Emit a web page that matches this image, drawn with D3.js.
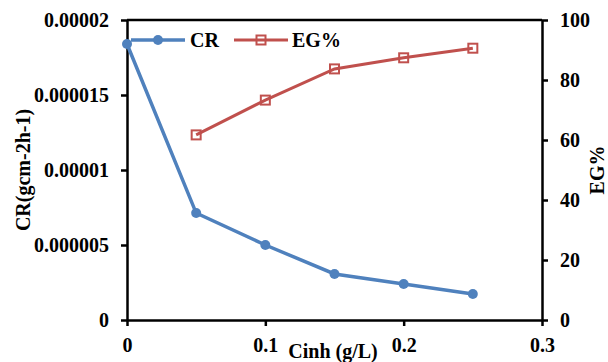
<!DOCTYPE html>
<html>
<head>
<meta charset="utf-8">
<script src="https://cdn.jsdelivr.net/npm/d3@7"></script>
<style>
  html, body { margin: 0; padding: 0; background: #fff; }
  svg { display: block; }
  text { font-family: "Liberation Serif", "Times New Roman", serif; font-weight: bold; fill: #000; }
</style>
</head>
<body>
<svg id="chart" width="608" height="362"></svg>
<script>
// Inhibitor concentration (g/L)
const cinh = [0, 0.05, 0.1, 0.15, 0.2, 0.25];
// Corrosion rate (g cm-2 h-1)
const crValues = [0.0000184, 0.00000713, 0.000005, 0.00000307, 0.0000024, 0.00000173];
// Inhibition efficiency (%), no value at blank
const egCinh = [0.05, 0.1, 0.15, 0.2, 0.25];
const egValues = [61.7, 73.3, 83.7, 87.4, 90.6];

const xTicks = [0, 0.1, 0.2, 0.3];
const xTickLabels = ["0", "0.1", "0.2", "0.3"];
const leftTicks = [0, 0.000005, 0.00001, 0.000015, 0.00002];
const leftTickLabels = ["0", "0.000005", "0.00001", "0.000015", "0.00002"];
const rightTicks = [0, 20, 40, 60, 80, 100];
const rightTickLabels = ["0", "20", "40", "60", "80", "100"];

const seriesNames = ["CR", "EG%"];
const blue = "#4F81BD", red = "#C0504D";

const svg = d3.select("#chart");
const m = { left: 127, right: 542, top: 20, bottom: 320 };

const x = d3.scaleLinear().domain([0, 0.3]).range([m.left, m.right]);
const yL = d3.scaleLinear().domain([0, 0.00002]).range([m.bottom, m.top]);
const yR = d3.scaleLinear().domain([0, 100]).range([m.bottom, m.top]);

// top frame line
svg.append("line")
  .attr("x1", m.left).attr("x2", m.right)
  .attr("y1", m.top).attr("y2", m.top)
  .attr("stroke", "#000").attr("stroke-width", 2.5);

function styleAxis(g) {
  g.selectAll(".domain").attr("stroke", "#000").attr("stroke-width", 2.5);
  g.selectAll(".tick line").attr("stroke", "#000").attr("stroke-width", 2.5);
  g.selectAll(".tick text")
    .style("font-family", "'Liberation Serif', 'Times New Roman', serif")
    .style("font-weight", "bold").style("font-size", "20px").attr("fill", "#000");
}

// x axis
const gx = svg.append("g").attr("transform", `translate(0,${m.bottom})`)
  .call(d3.axisBottom(x).tickValues(xTicks)
    .tickFormat((d, i) => xTickLabels[i]).tickSize(6).tickSizeOuter(0).tickPadding(12));
styleAxis(gx);

// left axis
const gl = svg.append("g").attr("transform", `translate(${m.left},0)`)
  .call(d3.axisLeft(yL).tickValues(leftTicks)
    .tickFormat((d, i) => leftTickLabels[i]).tickSize(6).tickSizeOuter(0).tickPadding(12));
styleAxis(gl);

// right axis
const gr = svg.append("g").attr("transform", `translate(${m.right},0)`)
  .call(d3.axisRight(yR).tickValues(rightTicks)
    .tickFormat((d, i) => rightTickLabels[i]).tickSize(6).tickSizeOuter(0).tickPadding(12));
styleAxis(gr);

// axis titles
svg.append("text")
  .attr("transform", `translate(30,${(m.top + m.bottom) / 2}) rotate(-90)`)
  .attr("text-anchor", "middle").style("font-size", "20px")
  .text("CR(gcm-2h-1)");
svg.append("text")
  .attr("transform", `translate(604,${(m.top + m.bottom) / 2}) rotate(-90)`)
  .attr("text-anchor", "middle").style("font-size", "20px")
  .text("EG%");
svg.append("text")
  .attr("x", 333).attr("y", 358)
  .attr("text-anchor", "middle").style("font-size", "20px")
  .text("Cinh (g/L)");

// CR series
const crData = cinh.map((c, i) => [c, crValues[i]]);
svg.append("path").datum(crData)
  .attr("fill", "none").attr("stroke", blue).attr("stroke-width", 3.5)
  .attr("d", d3.line().x(d => x(d[0])).y(d => yL(d[1])));
svg.selectAll(".cr-pt").data(crData).join("circle")
  .attr("cx", d => x(d[0])).attr("cy", d => yL(d[1])).attr("r", 5)
  .attr("fill", blue);

// EG series
const egData = egCinh.map((c, i) => [c, egValues[i]]);
svg.append("path").datum(egData)
  .attr("fill", "none").attr("stroke", red).attr("stroke-width", 3)
  .attr("d", d3.line().x(d => x(d[0])).y(d => yR(d[1])));
svg.selectAll(".eg-pt").data(egData).join("rect")
  .attr("x", d => x(d[0]) - 4.5).attr("y", d => yR(d[1]) - 4.5)
  .attr("width", 9).attr("height", 9)
  .attr("fill", "none").attr("stroke", red).attr("stroke-width", 2);

// legend
const lg = svg.append("g");
lg.append("line").attr("x1", 131).attr("x2", 185).attr("y1", 40).attr("y2", 40)
  .attr("stroke", blue).attr("stroke-width", 3.5);
lg.append("circle").attr("cx", 158).attr("cy", 40).attr("r", 5).attr("fill", blue);
lg.append("text").attr("x", 190).attr("y", 47).style("font-size", "20px").text(seriesNames[0]);
lg.append("line").attr("x1", 234).attr("x2", 288).attr("y1", 40).attr("y2", 40)
  .attr("stroke", red).attr("stroke-width", 3);
lg.append("rect").attr("x", 256.5).attr("y", 35.5).attr("width", 9).attr("height", 9)
  .attr("fill", "none").attr("stroke", red).attr("stroke-width", 2);
lg.append("text").attr("x", 292).attr("y", 47).style("font-size", "20px").text(seriesNames[1]);
</script>
</body>
</html>
